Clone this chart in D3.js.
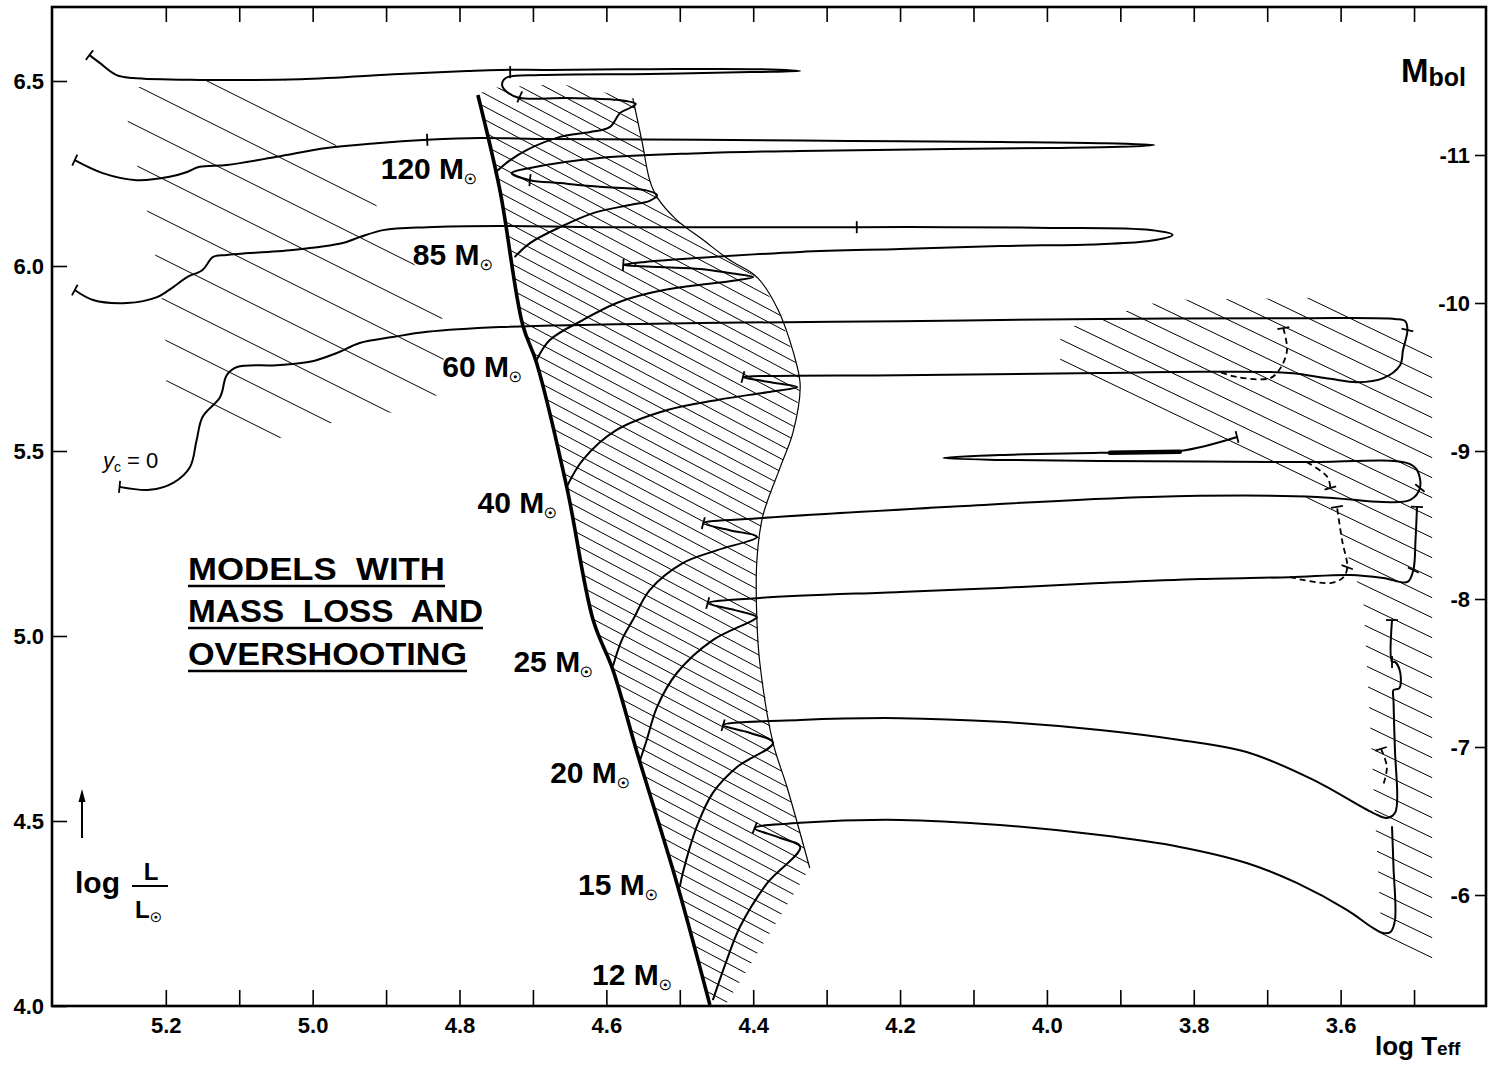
<!DOCTYPE html>
<html>
<head>
<meta charset="utf-8">
<script src="https://cdn.jsdelivr.net/npm/d3@7"></script>
<style>
  body { margin: 0; background: #fff; }
  svg { display: block; font-family: 'Liberation Sans', Arial, sans-serif; }
</style>
</head>
<body>
<div id="hrd"></div>
<script>
/* eslint-disable */

// axes
const teffTicks = [5.2, 5.1, 5.0, 4.9, 4.8, 4.7, 4.6, 4.5, 4.4, 4.3, 4.2, 4.1, 4.0, 3.9, 3.8, 3.7, 3.6, 3.5]
const teffLabels = [5.2, 5.0, 4.8, 4.6, 4.4, 4.2, 4.0, 3.8, 3.6]
const lumTicks = [4.0, 4.5, 5.0, 5.5, 6.0, 6.5]
const mbolTicks = [-6, -7, -8, -9, -10, -11]

// all points are [log Teff, log L/Lsun]
const zams = [
  [4.775, 6.462], [4.745, 6.205], [4.714, 5.841], [4.695, 5.738], [4.654, 5.403],
  [4.618, 5.043], [4.591, 4.908], [4.558, 4.684], [4.504, 4.332], [4.459, 4.003],
]
// cool edge of the main sequence band
const msEdge = [
  [4.564, 6.454], [4.551, 6.332], [4.541, 6.232], [4.531, 6.186], [4.504, 6.124],
  [4.468, 6.070], [4.432, 6.016], [4.395, 5.970], [4.366, 5.881], [4.340, 5.727],
  [4.336, 5.673], [4.346, 5.549], [4.363, 5.457], [4.387, 5.324], [4.395, 5.205],
  [4.395, 5.043], [4.391, 4.927], [4.373, 4.711], [4.354, 4.592], [4.323, 4.373],
]
const msBandBottom = [[4.436, 4.008]]
const msBandTop = [[4.663, 6.492], [4.759, 6.481]]

// other hatched areas
const hatchHot = [
  [5.260, 6.470], [5.201, 6.503], [5.038, 6.503], [5.017, 6.462], [4.949, 6.273],
  [4.885, 6.078], [4.824, 5.886], [4.820, 5.665], [4.863, 5.611], [4.932, 5.595],
  [4.990, 5.568], [5.045, 5.535], [5.095, 5.497], [5.199, 5.638], [5.201, 5.854],
  [5.219, 6.089], [5.246, 6.335],
]
const hatchCool = [
  [3.982, 5.827], [3.839, 5.908], [3.635, 5.914], [3.475, 5.768], [3.475, 4.084],
  [3.543, 4.146], [3.569, 5.097], [3.607, 5.314], [3.723, 5.489], [3.859, 5.584],
  [3.982, 5.705],
]

const track120 = [
  [4.752, 6.251], [4.731, 6.286], [4.708, 6.314], [4.663, 6.349], [4.622, 6.362],
  [4.595, 6.376], [4.581, 6.414], [4.568, 6.427], [4.560, 6.438], [4.586, 6.449],
  [4.654, 6.454], [4.718, 6.454], [4.734, 6.468], [4.742, 6.489], [4.737, 6.508],
  [4.690, 6.516], [4.541, 6.519], [4.404, 6.524], [4.336, 6.527], [4.391, 6.532],
  [4.541, 6.532], [4.677, 6.530], [4.745, 6.530], [4.790, 6.527], [4.881, 6.519],
  [5.017, 6.505], [5.154, 6.503], [5.245, 6.508], [5.267, 6.516], [5.290, 6.549],
  [5.304, 6.570],
]
const track85 = [
  [4.725, 6.024], [4.704, 6.062], [4.663, 6.105], [4.618, 6.143], [4.568, 6.165],
  [4.541, 6.176], [4.531, 6.192], [4.547, 6.205], [4.609, 6.214], [4.663, 6.224],
  [4.704, 6.232], [4.729, 6.251], [4.704, 6.265], [4.609, 6.292], [4.472, 6.305],
  [4.336, 6.311], [4.132, 6.316], [3.996, 6.319], [3.900, 6.322], [3.854, 6.327],
  [3.928, 6.332], [4.064, 6.335], [4.268, 6.338], [4.472, 6.341], [4.677, 6.343],
  [4.772, 6.346], [4.844, 6.341], [4.913, 6.332], [4.981, 6.319], [5.049, 6.295],
  [5.117, 6.273], [5.154, 6.268], [5.171, 6.254], [5.195, 6.241], [5.240, 6.232],
  [5.286, 6.251], [5.324, 6.286],
]
const track60 = [
  [4.695, 5.746], [4.677, 5.800], [4.632, 5.854], [4.586, 5.900], [4.541, 5.927],
  [4.486, 5.946], [4.432, 5.959], [4.400, 5.970], [4.432, 5.981], [4.472, 5.992],
  [4.527, 5.997], [4.577, 6.003], [4.547, 6.011], [4.472, 6.022], [4.336, 6.038],
  [4.200, 6.046], [4.064, 6.054], [3.928, 6.059], [3.859, 6.068], [3.829, 6.084],
  [3.859, 6.097], [3.996, 6.103], [4.132, 6.105], [4.259, 6.105], [4.404, 6.105],
  [4.609, 6.105], [4.745, 6.108], [4.844, 6.105], [4.904, 6.097], [4.936, 6.078],
  [4.959, 6.062], [5.027, 6.043], [5.117, 6.030], [5.136, 6.024], [5.150, 5.989],
  [5.171, 5.970], [5.190, 5.943], [5.212, 5.916], [5.253, 5.900], [5.299, 5.908],
  [5.324, 5.935],
]
const track40 = [
  [4.654, 5.403], [4.632, 5.476], [4.586, 5.557], [4.517, 5.611], [4.449, 5.638],
  [4.381, 5.659], [4.340, 5.673], [4.370, 5.684], [4.404, 5.695], [4.414, 5.700],
  [4.377, 5.703], [4.200, 5.705], [3.928, 5.711], [3.791, 5.714], [3.669, 5.711],
  [3.614, 5.695], [3.577, 5.686], [3.542, 5.697], [3.519, 5.732], [3.515, 5.773],
  [3.509, 5.827], [3.512, 5.851], [3.526, 5.857], [3.655, 5.859], [3.928, 5.857],
  [4.200, 5.851], [4.472, 5.846], [4.745, 5.835], [4.844, 5.822], [4.891, 5.808],
  [4.936, 5.792], [4.967, 5.765], [5.004, 5.741], [5.049, 5.732], [5.103, 5.727],
  [5.117, 5.705], [5.126, 5.646], [5.150, 5.592], [5.158, 5.530], [5.167, 5.457],
  [5.190, 5.414], [5.222, 5.395], [5.263, 5.403],
]
const track25 = [
  [4.591, 4.919], [4.579, 4.989], [4.564, 5.043], [4.541, 5.124], [4.496, 5.197],
  [4.449, 5.232], [4.395, 5.268], [4.432, 5.286], [4.468, 5.305], [4.387, 5.319],
  [4.132, 5.349], [3.859, 5.376], [3.632, 5.376], [3.542, 5.362], [3.505, 5.368],
  [3.492, 5.400], [3.496, 5.449], [3.510, 5.468], [3.655, 5.470], [3.928, 5.473],
  [4.064, 5.476], [4.141, 5.481], [4.064, 5.489], [3.928, 5.495], [3.819, 5.500],
  [3.741, 5.538],
]
const track20 = [
  [4.554, 4.665], [4.545, 4.719], [4.531, 4.808], [4.504, 4.900], [4.455, 4.989],
  [4.400, 5.043], [4.395, 5.051], [4.425, 5.070], [4.462, 5.089], [4.391, 5.103],
  [4.200, 5.119], [4.064, 5.130], [3.928, 5.143], [3.791, 5.154], [3.669, 5.159],
  [3.587, 5.165], [3.542, 5.157], [3.509, 5.146], [3.501, 5.178], [3.498, 5.259],
  [3.496, 5.349],
]
const track15 = [
  [4.500, 4.322], [4.496, 4.359], [4.477, 4.484], [4.455, 4.576], [4.422, 4.646],
  [4.373, 4.711], [4.404, 4.738], [4.441, 4.759], [4.336, 4.773], [4.200, 4.778],
  [4.064, 4.768], [3.928, 4.746], [3.819, 4.719], [3.727, 4.686], [3.637, 4.611],
  [3.556, 4.522], [3.537, 4.508], [3.526, 4.522], [3.523, 4.557], [3.526, 4.692],
  [3.528, 4.827], [3.528, 4.854], [3.520, 4.859], [3.519, 4.903], [3.526, 4.930],
  [3.530, 4.930], [3.530, 5.043],
]
const track12 = [
  [4.455, 4.016], [4.436, 4.124], [4.418, 4.214], [4.381, 4.332], [4.336, 4.430],
  [4.363, 4.454], [4.398, 4.481], [4.336, 4.495], [4.200, 4.503], [4.064, 4.489],
  [3.928, 4.462], [3.819, 4.430], [3.727, 4.386], [3.659, 4.332], [3.591, 4.259],
  [3.556, 4.211], [3.542, 4.197], [3.532, 4.200], [3.526, 4.232], [3.528, 4.376],
  [3.530, 4.486],
]
const blob25 = [[3.914, 5.495], [3.819, 5.498]]

// dashed branches in the red supergiant region
const dash40 = [[3.678, 5.832], [3.673, 5.773], [3.682, 5.724], [3.696, 5.697], [3.741, 5.700], [3.768, 5.716]]
const dash25 = [[3.646, 5.470], [3.618, 5.430], [3.614, 5.400]]
const dash20 = [[3.669, 5.159], [3.614, 5.143], [3.596, 5.159], [3.591, 5.186], [3.598, 5.259], [3.605, 5.349]]
const dash15 = [[3.545, 4.695], [3.537, 4.646], [3.542, 4.597]]

// small cross marks on the tracks
const trackTicks = [
  [4.731, 6.524], [4.718, 6.457], [5.304, 6.570],
  [4.704, 6.232], [4.844, 6.341], [5.324, 6.286],
  [4.577, 6.003], [4.259, 6.105], [5.324, 5.935],
  [4.414, 5.700], [3.509, 5.827], [5.263, 5.403], [3.678, 5.832],
  [4.468, 5.305], [3.492, 5.400], [3.741, 5.538], [3.614, 5.400],
  [4.462, 5.089], [3.501, 5.178], [3.496, 5.349], [3.591, 5.186], [3.605, 5.349],
  [4.441, 4.759], [3.530, 4.930], [3.530, 5.043], [3.545, 4.695],
  [4.398, 4.481],
]

const massNames = ['120', '85', '60', '40', '25', '20', '15', '12']
const massLabelAt = [
  [4.776, 6.235], [4.755, 6.003], [4.715, 5.700], [4.667, 5.332],
  [4.618, 4.903], [4.568, 4.603], [4.530, 4.300], [4.511, 4.057],
]

const tracks = [track120, track85, track60, track40, track25, track20, track15, track12]
const dashed = [dash40, dash25, dash20, dash15]

const width = 1493
const height = 1067
const frame = { left: 52, right: 1486, top: 7, bottom: 1006 }

const x = d3.scaleLinear().domain([5.355, 3.402]).range([frame.left, frame.right])
const y = d3.scaleLinear().domain([4.0, 6.7]).range([frame.bottom, frame.top])
// Mbol = 4.75 - 2.5 log L
const yM = d3.scaleLinear().domain([4.75 - 2.5 * 4.0, 4.75 - 2.5 * 6.7]).range([frame.bottom, frame.top])

const svg = d3
  .select('#hrd')
  .append('svg')
  .attr('width', width)
  .attr('height', height)

const defs = svg.append('defs')

const area = d3
  .line()
  .x(d => x(d[0]))
  .y(d => y(d[1]))

const smooth = d3
  .line()
  .x(d => x(d[0]))
  .y(d => y(d[1]))
  .curve(d3.curveCatmullRom.alpha(0.5))

// hatching: parallel lines clipped to a region
function hatch(id, polygon, gap, slope) {
  defs
    .append('clipPath')
    .attr('id', id)
    .append('path')
    .attr('d', area(polygon) + 'Z')
  const xs = polygon.map(d => x(d[0]))
  const ys = polygon.map(d => y(d[1]))
  const x0 = d3.min(xs)
  const x1 = d3.max(xs)
  const y0 = d3.min(ys)
  const y1 = d3.max(ys)
  const offsets = d3.range(y0 - slope * (x1 - x0), y1 + gap, gap)
  svg
    .append('g')
    .attr('clip-path', `url(#${id})`)
    .selectAll('line')
    .data(offsets)
    .join('line')
    .attr('x1', x0)
    .attr('y1', d => d)
    .attr('x2', x1)
    .attr('y2', d => d + slope * (x1 - x0))
    .attr('stroke', '#000')
    .attr('stroke-width', 1)
}

const bandPolygon = zams.concat(msBandBottom, msEdge.slice().reverse(), msBandTop)
hatch('clip-band', bandPolygon, 13, 0.53)
hatch('clip-hot', hatchHot, 40, 0.5)
hatch('clip-cool', hatchCool, 20, 0.48)

// edge of the band
svg
  .append('path')
  .attr('d', smooth(msEdge))
  .attr('fill', 'none')
  .attr('stroke', '#000')
  .attr('stroke-width', 1.2)

// tracks
svg
  .append('g')
  .selectAll('path')
  .data(tracks)
  .join('path')
  .attr('d', smooth)
  .attr('fill', 'none')
  .attr('stroke', '#000')
  .attr('stroke-width', 2)
  .attr('stroke-linejoin', 'round')

svg
  .append('path')
  .attr('d', area(blob25))
  .attr('stroke', '#000')
  .attr('stroke-width', 4.5)
  .attr('stroke-linecap', 'round')

svg
  .append('g')
  .selectAll('path')
  .data(dashed)
  .join('path')
  .attr('d', smooth)
  .attr('fill', 'none')
  .attr('stroke', '#000')
  .attr('stroke-width', 1.8)
  .attr('stroke-dasharray', '6,4')

// ZAMS
svg
  .append('path')
  .attr('d', smooth(zams))
  .attr('fill', 'none')
  .attr('stroke', '#000')
  .attr('stroke-width', 3.6)

// tick marks, drawn across the nearest piece of track
const allLines = tracks.concat(dashed)
function tickPath(p) {
  const px = x(p[0])
  const py = y(p[1])
  let best = [1, 0]
  let bestD = Infinity
  allLines.forEach(line => {
    for (let i = 0; i < line.length - 1; i++) {
      const ax = x(line[i][0])
      const ay = y(line[i][1])
      const dx = x(line[i + 1][0]) - ax
      const dy = y(line[i + 1][1]) - ay
      const len2 = dx * dx + dy * dy || 1
      const t = Math.max(0, Math.min(1, ((px - ax) * dx + (py - ay) * dy) / len2))
      const d = (ax + t * dx - px) ** 2 + (ay + t * dy - py) ** 2
      if (d < bestD) {
        bestD = d
        best = [dx, dy]
      }
    }
  })
  const len = Math.hypot(best[0], best[1]) || 1
  const nx = -best[1] / len
  const ny = best[0] / len
  const h = 6
  return `M${px - nx * h},${py - ny * h}L${px + nx * h},${py + ny * h}`
}

svg
  .append('g')
  .selectAll('path')
  .data(trackTicks)
  .join('path')
  .attr('d', tickPath)
  .attr('stroke', '#000')
  .attr('stroke-width', 1.8)

// mass labels
const labels = svg
  .append('g')
  .selectAll('text')
  .data(massNames)
  .join('text')
  .attr('x', (d, i) => x(massLabelAt[i][0]))
  .attr('y', (d, i) => y(massLabelAt[i][1]))
  .attr('text-anchor', 'end')
  .attr('font-size', 30)
  .attr('font-weight', 'bold')
labels.append('tspan').text(d => d + ' M')
labels
  .append('tspan')
  .attr('font-size', 14)
  .attr('dy', 5)
  .text('☉')

// frame
svg
  .append('rect')
  .attr('x', frame.left)
  .attr('y', frame.top)
  .attr('width', frame.right - frame.left)
  .attr('height', frame.bottom - frame.top)
  .attr('fill', 'none')
  .attr('stroke', '#000')
  .attr('stroke-width', 2.6)

function styleAxis(g) {
  g.select('.domain').remove()
  g.selectAll('line').attr('stroke', '#000').attr('stroke-width', 1.6)
  g.selectAll('text')
    .attr('font-family', "'Liberation Sans', Arial, sans-serif")
    .attr('font-size', 22)
    .attr('font-weight', 'bold')
    .attr('fill', '#000')
}

svg
  .append('g')
  .attr('transform', `translate(0,${frame.bottom})`)
  .call(
    d3
      .axisBottom(x)
      .tickValues(teffTicks)
      .tickSizeInner(-16)
      .tickSizeOuter(0)
      .tickPadding(11)
      .tickFormat(d => (teffLabels.includes(d) ? d.toFixed(1) : '')),
  )
  .call(styleAxis)

svg
  .append('g')
  .attr('transform', `translate(0,${frame.top})`)
  .call(
    d3
      .axisTop(x)
      .tickValues(teffTicks)
      .tickSizeInner(-15)
      .tickSizeOuter(0)
      .tickFormat(''),
  )
  .call(styleAxis)

svg
  .append('g')
  .attr('transform', `translate(${frame.left},0)`)
  .call(
    d3
      .axisLeft(y)
      .tickValues(lumTicks)
      .tickSizeInner(-15)
      .tickSizeOuter(0)
      .tickPadding(8)
      .tickFormat(d3.format('.1f')),
  )
  .call(styleAxis)

svg
  .append('g')
  .attr('transform', `translate(${frame.right},0)`)
  .call(
    d3
      .axisLeft(yM)
      .tickValues(mbolTicks)
      .tickSizeInner(11)
      .tickSizeOuter(0)
      .tickPadding(5)
      .tickFormat(d => String(d)),
  )
  .call(styleAxis)

// axis titles
const mbol = svg
  .append('text')
  .attr('x', 1401)
  .attr('y', 82)
  .attr('font-weight', 'bold')
  .attr('font-size', 33)
mbol.append('tspan').text('M')
mbol.append('tspan').attr('font-size', 25).attr('dy', 4).text('bol')

const teffTitle = svg
  .append('text')
  .attr('x', 1375)
  .attr('y', 1055)
  .attr('font-weight', 'bold')
  .attr('font-size', 26)
teffTitle.append('tspan').text('log T')
teffTitle.append('tspan').attr('font-size', 19).text('eff')

svg
  .append('text')
  .attr('x', 75)
  .attr('y', 893)
  .attr('font-weight', 'bold')
  .attr('font-size', 30)
  .text('log')
svg
  .append('text')
  .attr('x', 151)
  .attr('y', 880)
  .attr('text-anchor', 'middle')
  .attr('font-weight', 'bold')
  .attr('font-size', 24)
  .text('L')
svg
  .append('line')
  .attr('x1', 132)
  .attr('x2', 168)
  .attr('y1', 886)
  .attr('y2', 886)
  .attr('stroke', '#000')
  .attr('stroke-width', 2)
const lsun = svg
  .append('text')
  .attr('x', 135)
  .attr('y', 918)
  .attr('font-weight', 'bold')
  .attr('font-size', 24)
lsun.append('tspan').text('L')
lsun.append('tspan').attr('font-size', 13).attr('dy', 4).text('☉')

svg
  .append('line')
  .attr('x1', 82)
  .attr('x2', 82)
  .attr('y1', 838)
  .attr('y2', 800)
  .attr('stroke', '#000')
  .attr('stroke-width', 2)
svg
  .append('path')
  .attr('d', 'M82,789L78.5,802L85.5,802Z')
  .attr('fill', '#000')

// y_c = 0
const yc = svg
  .append('text')
  .attr('x', 103)
  .attr('y', 468)
  .attr('font-size', 22)
yc.append('tspan').attr('font-style', 'italic').text('y')
yc.append('tspan').attr('font-size', 14).attr('dy', 4).text('c')
yc.append('tspan').attr('dy', -4).text(' = 0')

// caption
const caption = [
  { text: 'MODELS  WITH', base: 580, len: 257 },
  { text: 'MASS  LOSS  AND', base: 622, len: 295 },
  { text: 'OVERSHOOTING', base: 665, len: 279 },
]
const cap = svg.append('g')
cap
  .selectAll('text')
  .data(caption)
  .join('text')
  .attr('x', 188)
  .attr('y', d => d.base)
  .attr('font-size', 31)
  .attr('font-weight', 'bold')
  .attr('textLength', d => d.len)
  .attr('lengthAdjust', 'spacingAndGlyphs')
  .attr('xml:space', 'preserve')
  .text(d => d.text)
cap
  .selectAll('line')
  .data(caption)
  .join('line')
  .attr('x1', 188)
  .attr('x2', d => 188 + d.len)
  .attr('y1', d => d.base + 6)
  .attr('y2', d => d.base + 6)
  .attr('stroke', '#000')
  .attr('stroke-width', 2.4)
</script>
</body>
</html>
